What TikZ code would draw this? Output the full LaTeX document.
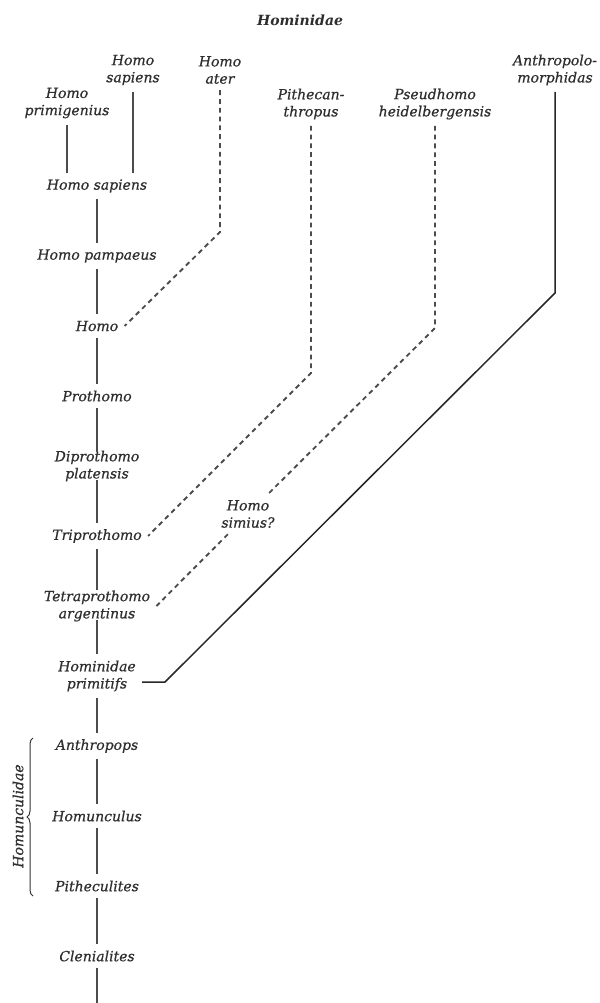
\documentclass[tikz,border=0pt]{standalone}
\usepackage{fontspec}
\setmainfont{DejaVu Serif}[ItalicFeatures={FakeBold=0.6}]
\usepackage{xcolor}
\usetikzlibrary{positioning,calc,decorations.pathreplacing}

\begin{document}
\begin{tikzpicture}[
	x=0.5pt, y=-0.5pt,
	font=\fontsize{7}{8.6}\selectfont\itshape,
	on grid, node distance=35pt,
	taxon/.style={
		text=black!82, align=center, inner sep=3pt
	},
	famtitle/.style={taxon, font=\fontsize{7}{8.6}\selectfont\bfseries\itshape},
	link/.style={black!70, line width=0.95pt},
	dlink/.style={link, dash pattern=on 2.4pt off 2pt},
	slink/.style={black!85, line width=0.75pt},
	brc/.style={black!80, line width=0.5pt, decorate, decoration={brace, amplitude=3pt}}
	]
	\useasboundingbox (0,0) rectangle (600,1003);
	
	\node[famtitle] (fam) at (300,20) {Hominidae};
	
	%% ─── MAIN LINE ───────────────────────────────────────────────
	\node[taxon] (hsap) at (97,186) {Homo sapiens};
	\node[taxon, below=of hsap] (hpamp) {Homo pampaeus};
	\node[taxon, below=of hpamp] (homo) {Homo};
	\node[taxon, below=of homo] (proth) {Prothomo};
	\node[taxon, below=of proth] (diproth) {Diprothomo\\platensis};
	\node[taxon, below=of diproth] (triproth) {Triprothomo};
	\node[taxon, below=of triproth] (tetra) {Tetraprothomo\\argentinus};
	\node[taxon, below=of tetra] (hprimi) {Hominidae\\primitifs};
	\node[taxon, below=of hprimi] (anthrops) {Anthropops};
	\node[taxon, below=of anthrops] (homunc) {Homunculus};
	\node[taxon, below=of homunc] (pithec) {Pitheculites};
	\node[taxon, below=of pithec] (clen) {Clenialites};
	\coordinate[below=25pt of clen] (base);
	
	\draw[link] (hsap) -- (hpamp); \draw[link] (hpamp) -- (homo);
	\draw[link] (homo) -- (proth); \draw[link, shorten >=-4pt] (proth) -- (diproth);
	\draw[link, shorten <=-4pt] (diproth) -- (triproth);
	\draw[link, shorten >=-3pt] (triproth) -- (tetra);
	\draw[link, shorten <=-4pt] (tetra) -- (hprimi);
	\draw[link] (hprimi) -- (anthrops); \draw[link] (anthrops) -- (homunc);
	\draw[link] (homunc) -- (pithec); \draw[link] (pithec) -- (clen);
	\draw[link] (clen) -- (base);
	
	%% ─── SIDE BRANCHES ───────────────────────────────────────────
	\node[taxon] (hprim) at (67,103) {Homo\\primigenius};
	\node[taxon] (hsapt) at (133,70) {Homo\\sapiens};
	\node[taxon] (hater) at (220,70) {Homo\\ater};
	\node[taxon] (pith) at (311,104) {Pithecan-\\thropus};
	\node[taxon] (pseud) at (435,104) {Pseudhomo\\heidelbergensis};
	\node[taxon] (anthr) at (555,70) {Anthropolo-\\morphidas};
	\node[taxon] (simius) at (248,514) {Homo\\simius?};
	
	\coordinate (aterbend) at (220,232);
	\coordinate (pithbend) at (311,373);
	\coordinate (pseudbend) at (435,328);
	\coordinate (anthrbend) at (555,293);
	\coordinate (anthrfoot) at (165,682);
	
	\draw[link] (hprim) -- (hprim |- hsap.north);
	\draw[link] (hsapt) -- (hsapt |- hsap.north);
	\draw[dlink] (hater) -- (aterbend) -- (homo.east);
	\draw[dlink] (pith) -- (pithbend) -- (triproth.east);
	\draw[dlink] (pseud) -- (pseudbend) -- (simius);
	\draw[dlink] (simius) -- (tetra.east);
	\draw[slink] (anthr) -- (anthrbend) -- (anthrfoot) -- ([yshift=-3pt]hprimi.east);
	
	%% ─── HOMUNCULIDAE ────────────────────────────────────────────
	\coordinate (brcbot) at (33,896);
	\coordinate (brctop) at (33,738);
	\draw[brc] (brcbot) -- (brctop);
	\node[taxon, rotate=90] (homuncfam) at (18,816) {Homunculidae};
\end{tikzpicture}
\end{document}
